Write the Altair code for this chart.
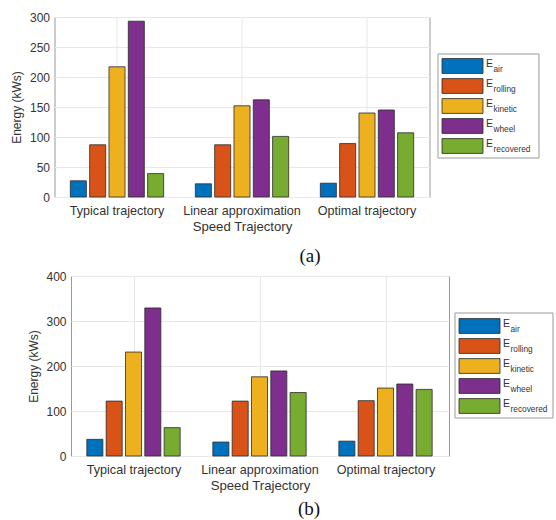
import altair as alt
import pandas as pd

categories = ["Typical trajectory", "Linear approximation", "Optimal trajectory"]
series = ["air", "rolling", "kinetic", "wheel", "recovered"]
colors = ["#0072BD", "#D95319", "#EDB120", "#7E2F8E", "#77AC30"]

# Panel (a) values (kWs)
a_air = [27, 22, 23]
a_rolling = [87, 87, 89]
a_kinetic = [217, 152, 140]
a_wheel = [293, 162, 145]
a_recovered = [39, 101, 107]

# Panel (b) values (kWs)
b_air = [37, 31, 33]
b_rolling = [122, 122, 123]
b_kinetic = [231, 176, 151]
b_wheel = [329, 189, 160]
b_recovered = [63, 141, 148]

FONT = "Liberation Sans"
TXT = "#333333"
FRAME = "#9a9a9a"
GRID = "#e8e8e8"


def make_df(cols):
    rows = []
    for s, vals in zip(series, cols):
        for c, v in zip(categories, vals):
            rows.append({"traj": c, "series": s, "value": v})
    return pd.DataFrame(rows)


def bars(df, ymax, ystep, caption, cap_dx, cap_off, width):
    return (
        alt.Chart(df)
        .mark_bar(stroke="#2a2a2a", strokeWidth=0.8)
        .encode(
            x=alt.X(
                "traj:N",
                sort=categories,
                scale=alt.Scale(paddingInner=0, paddingOuter=0),
                axis=alt.Axis(
                    title="Speed Trajectory",
                    labelAngle=0,
                    bandPosition=0.5,
                    grid=True,
                    gridColor=GRID,
                    domain=False,
                    ticks=False,
                    labelPadding=7,
                    labelFontSize=12.6,
                    titleFontSize=13.2,
                    titleFontWeight="normal",
                    titlePadding=4,
                    labelColor=TXT,
                    titleColor=TXT,
                    labelFont=FONT,
                    titleFont=FONT,
                ),
            ),
            xOffset=alt.XOffset(
                "series:N",
                sort=series,
                scale=alt.Scale(paddingInner=0.17, paddingOuter=0.82),
            ),
            y=alt.Y(
                "value:Q",
                scale=alt.Scale(domain=[0, ymax], nice=False),
                axis=alt.Axis(
                    title="Energy (kWs)",
                    values=list(range(0, ymax + 1, ystep)),
                    grid=True,
                    gridColor=GRID,
                    domain=False,
                    ticks=False,
                    labelPadding=5,
                    labelFontSize=12,
                    titleFontSize=12,
                    titleFontWeight="normal",
                    titleX=-38,
                    titleBaseline="middle",
                    labelColor=TXT,
                    titleColor=TXT,
                    labelFont=FONT,
                    titleFont=FONT,
                ),
            ),
            color=alt.Color(
                "series:N",
                sort=series,
                scale=alt.Scale(domain=series, range=colors),
                legend=None,
            ),
        )
        .properties(
            width=width,
            height=180,
            title=alt.TitleParams(
                caption,
                orient="bottom",
                anchor="middle",
                font="Liberation Serif",
                fontSize=19,
                fontWeight="normal",
                color="#111111",
                dx=cap_dx,
                offset=cap_off,
            ),
            view=alt.ViewBackground(stroke=FRAME, strokeWidth=1),
        )
    )


def legend(box_w, y_top, y_bot, first, last):
    ldf = pd.DataFrame({"series": series, "idx": list(range(len(series)))})
    ldf["main"] = "E"
    ysc = alt.Scale(domain=[0, len(series) - 1], range=[first, last])
    frame = (
        alt.Chart(pd.DataFrame({"f": [0]}))
        .mark_rect(fill="white", stroke=FRAME, strokeWidth=1)
        .encode(x=alt.value(0), x2=alt.value(box_w), y=alt.value(y_top), y2=alt.value(y_bot))
    )
    base = alt.Chart(ldf).transform_calculate(
        y0="datum.idx - 0.37", y1="datum.idx + 0.37"
    )
    sw = base.mark_rect(stroke="#2a2a2a", strokeWidth=0.8).encode(
        x=alt.value(4),
        x2=alt.value(45),
        y=alt.Y("y0:Q", scale=ysc, axis=None),
        y2="y1:Q",
        color=alt.Color("series:N", sort=series, scale=alt.Scale(domain=series, range=colors), legend=None),
    )
    e_txt = base.mark_text(
        align="left", baseline="middle", font=FONT, fontSize=10.5, color=TXT, dy=-2
    ).encode(x=alt.value(48), y=alt.Y("idx:Q", scale=ysc, axis=None), text="main:N")
    sub_txt = base.mark_text(
        align="left", baseline="middle", font=FONT, fontSize=8.3, color=TXT, dy=4
    ).encode(x=alt.value(55.5), y=alt.Y("idx:Q", scale=ysc, axis=None), text="series:N")
    return alt.layer(frame, sw, e_txt, sub_txt).properties(
        width=box_w, height=180, view=alt.ViewBackground(stroke="transparent")
    )


def spacer(w):
    return (
        alt.Chart(pd.DataFrame({"v": [0]}))
        .mark_text(text="", opacity=0)
        .encode(x=alt.value(1), y=alt.value(1))
        .properties(width=w, height=20, view=alt.ViewBackground(stroke="transparent"))
    )


dfa = make_df([a_air, a_rolling, a_kinetic, a_wheel, a_recovered])
dfb = make_df([b_air, b_rolling, b_kinetic, b_wheel, b_recovered])

row_a = alt.hconcat(
    spacer(1),
    bars(dfa, 300, 50, "(a)", 68, 14, 375),
    legend(101, 37, 141, 49, 129),
    spacing=6.5,
)
row_b = alt.hconcat(
    spacer(20.5),
    bars(dfb, 400, 100, "(b)", 49, 8, 378),
    legend(98, 37, 142, 50, 130),
    spacing=4,
)

chart = (
    alt.vconcat(row_a, row_b, spacing=2)
    .properties(padding={"left": 0, "top": 10, "right": 0, "bottom": 0})
    .configure(background="white")
)

chart.save("out.html", embed_options={"renderer": "svg", "actions": False})
